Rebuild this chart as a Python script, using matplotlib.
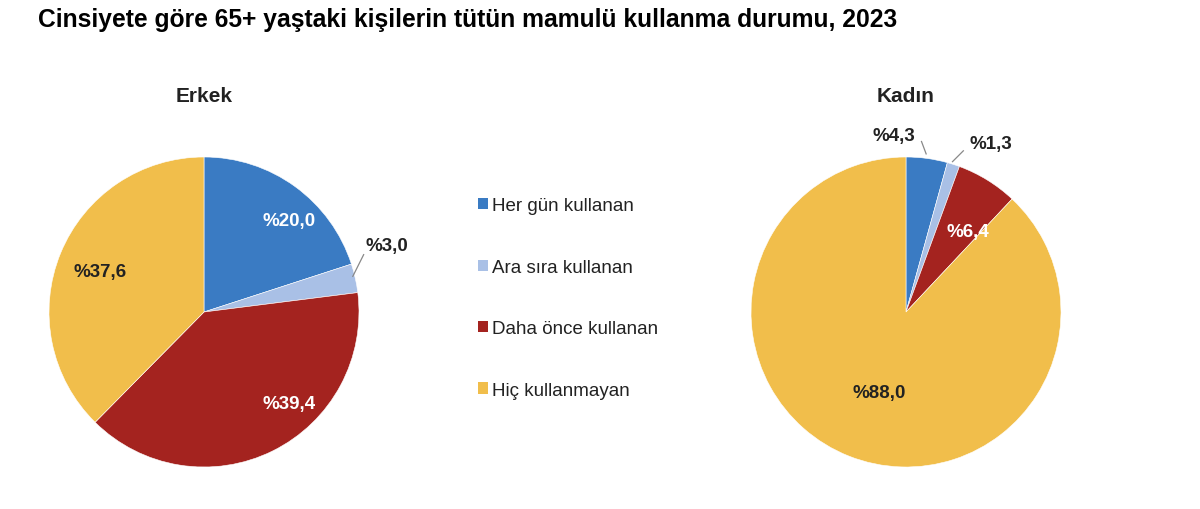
import matplotlib.pyplot as plt
from matplotlib.patches import Patch

plt.rcParams['font.family'] = ['Liberation Sans', 'DejaVu Sans']

categories = ["Her gün kullanan", "Ara sıra kullanan", "Daha önce kullanan", "Hiç kullanmayan"]
erkek = [20.0, 3.0, 39.4, 37.6]
kadin = [4.3, 1.3, 6.4, 88.0]
colors = ["#3a7bc3", "#a9c0e6", "#a4231f", "#f1be4b"]

# label placement (in pie radius units) and colours; None = no leader line
erkek_pos = [(0.55, 0.59), (1.18, 0.43), (0.55, -0.59), (-0.67, 0.26)]
erkek_lead = [None, ((0.96, 0.23), (1.03, 0.37)), None, None]
kadin_pos = [(-0.08, 1.14), (0.55, 1.09), (0.40, 0.52), (-0.17, -0.52)]
kadin_lead = [((0.13, 1.02), (0.10, 1.10)), ((0.30, 0.97), (0.37, 1.04)), None, None]
inner_col = ["white", "#222222", "white", "#222222"]


def fmt(v):
    return "%" + f"{v:.1f}".replace(".", ",")


def draw_pie(ax, values, pos, lead, title):
    ax.pie(values, colors=colors, startangle=90, counterclock=False,
           wedgeprops=dict(edgecolor="white", linewidth=0.4))
    ax.set_xlim(-1, 1)
    ax.set_ylim(-1, 1)
    ax.set_aspect("auto")
    for i, v in enumerate(values):
        col = "#222222" if lead[i] else inner_col[i]
        ax.text(pos[i][0], pos[i][1], fmt(v), ha="center", va="center",
                fontsize=13.5, fontweight="bold", color=col)
        if lead[i]:
            (x0, y0), (x1, y1) = lead[i]
            ax.plot([x0, x1], [y0, y1], color="#888888", lw=0.9, clip_on=False)
    ax.text(0, 1.40, title, ha="center", va="center", fontsize=15, fontweight="bold",
            color="#222222")


fig = plt.figure(figsize=(12, 5.1), dpi=100)

W, H = 1200, 510
r = 155
ax1 = fig.add_axes([(204 - r) / W, (H - 313 - r) / H, 2 * r / W, 2 * r / H])
ax2 = fig.add_axes([(906 - r) / W, (H - 313 - r) / H, 2 * r / W, 2 * r / H])
draw_pie(ax1, erkek, erkek_pos, erkek_lead, "Erkek")
draw_pie(ax2, kadin, kadin_pos, kadin_lead, "Kadın")

handles = [Patch(facecolor=c, edgecolor="none") for c in colors]
fig.legend(handles, categories, loc="center left",
           bbox_to_anchor=(461 / W, (H - 299) / H), frameon=False,
           fontsize=13.5, labelspacing=2.37, handlelength=0.55, handleheight=0.55,
           handletextpad=0.2, labelcolor="#222222")

fig.text(38 / W, 1 - 20 / H, "Cinsiyete göre 65+ yaştaki kişilerin tütün mamulü kullanma durumu, 2023",
         ha="left", va="center", fontsize=17.7, fontweight="bold")

fig.savefig("out.png", dpi=100)
